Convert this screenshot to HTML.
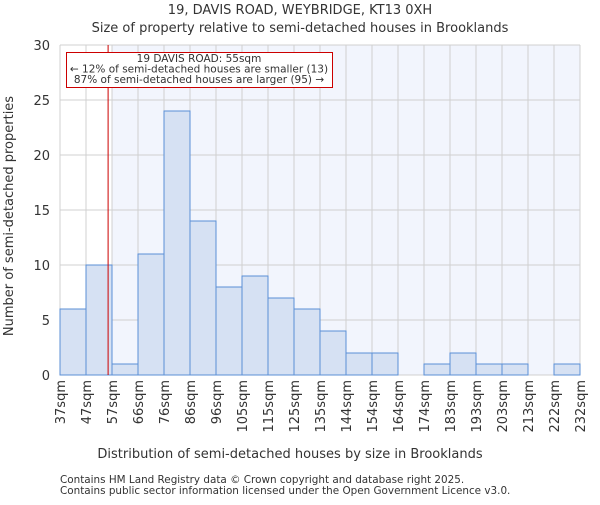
<!DOCTYPE html>
<html><head><meta charset="utf-8"><style>
body{margin:0;background:#fff;}
svg text{font-family:"DejaVu Sans","Liberation Sans",sans-serif;fill:#333;}
</style></head><body>
<svg width="600" height="500" xmlns="http://www.w3.org/2000/svg">
<text x="300" y="14" text-anchor="middle" font-size="13">19, DAVIS ROAD, WEYBRIDGE, KT13 0XH</text>
<text x="300" y="32" text-anchor="middle" font-size="13">Size of property relative to semi-detached houses in Brooklands</text>
<g id="plot"></g>
<text x="290" y="458" text-anchor="middle" font-size="13">Distribution of semi-detached houses by size in Brooklands</text>
<text transform="translate(13,216) rotate(-90)" text-anchor="middle" font-size="13">Number of semi-detached properties</text>
<text x="60" y="483" font-size="10.4">Contains HM Land Registry data © Crown copyright and database right 2025.</text>
<text x="60" y="494" font-size="10.4">Contains public sector information licensed under the Open Government Licence v3.0.</text>
</svg>
<script>
const categories=["37sqm","47sqm","57sqm","66sqm","76sqm","86sqm","96sqm","105sqm","115sqm","125sqm","135sqm","144sqm","154sqm","164sqm","174sqm","183sqm","193sqm","203sqm","213sqm","222sqm","232sqm"];
const counts=[6,10,1,11,24,14,8,9,7,6,4,2,2,0,1,2,1,1,0,1];
const yTicks=[0,5,10,15,20,25,30];
const markerIndex=1.85;
const NS="http://www.w3.org/2000/svg";
const g=document.getElementById('plot');
const x0=60,x1=580,yTop=45,yBot=375,yMax=30;
const bw=(x1-x0)/counts.length;
const X=i=>x0+i*bw;
const Y=v=>yBot-(v/yMax)*(yBot-yTop);
function mk(t,a){const e=document.createElementNS(NS,t);for(const k in a)e.setAttribute(k,a[k]);g.appendChild(e);return e;}
const mx=X(markerIndex);
const bg=mk('rect',{x:X(2),y:yTop,width:x1-X(2),height:yBot-yTop,fill:'#f2f5fd'});


for(let i=0;i<=counts.length;i++){const l=mk('line',{x1:X(i),x2:X(i),y1:yTop,y2:yBot,stroke:'#d0d0d0','stroke-width':1});

}
yTicks.forEach(v=>{const l=mk('line',{x1:x0,x2:x1,y1:Y(v),y2:Y(v),stroke:'#d0d0d0','stroke-width':1});


const t=mk('text',{x:x0-10,y:Y(v)+5,'text-anchor':'end','font-size':13});t.textContent=v;

});
counts.forEach((c,i)=>{if(c<=0)return;const r=mk('rect',{x:X(i),y:Y(c),width:bw,height:Y(0)-Y(c),fill:'#d6e1f3',stroke:'#5b8fd6','stroke-width':1});

});
categories.forEach((c,i)=>{const t=mk('text',{transform:`translate(${X(i)+5},380) rotate(-90)`,'text-anchor':'end','font-size':13});t.textContent=c;

});
const ml=mk('line',{x1:mx,x2:mx,y1:yTop,y2:yBot,stroke:'#cc0000','stroke-width':1});


const box=mk('rect',{x:66.5,y:52.5,width:266,height:35,fill:'#fff',stroke:'#cc0000','stroke-width':1});


["19 DAVIS ROAD: 55sqm","← 12% of semi-detached houses are smaller (13)","87% of semi-detached houses are larger (95) →"].forEach((s,i)=>{const t=mk('text',{x:199,y:62+i*10.6,'text-anchor':'middle','font-size':10.5});t.textContent=s;

});
</script>
</body></html>
